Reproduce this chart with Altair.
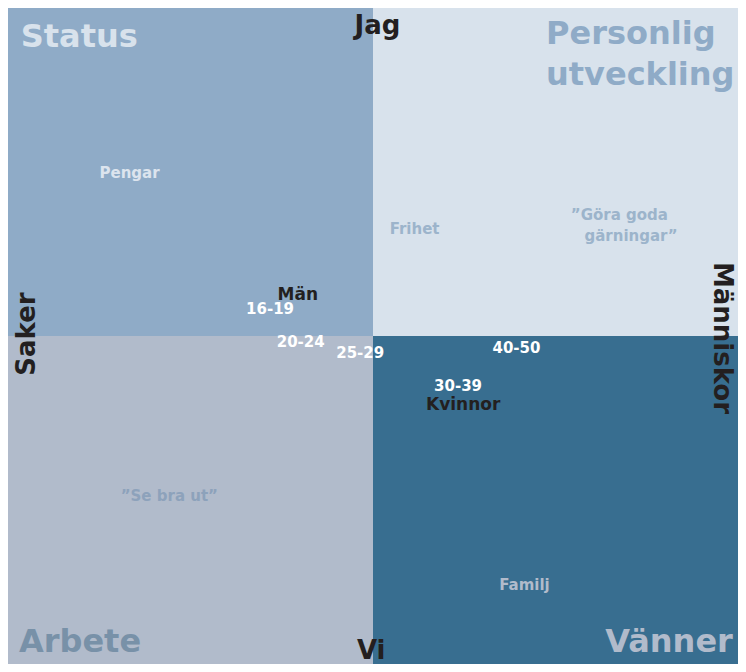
import altair as alt
import pandas as pd

# Quadrant backgrounds
quad_names = ["Status", "Personlig utveckling", "Arbete", "Vänner"]
quad_x = [-1, 0, -1, 0]
quad_x2 = [0, 1, 0, 1]
quad_y = [0, 0, -1, -1]
quad_y2 = [1, 1, 0, 0]
quad_colors = ["#8FABC7", "#D8E2EC", "#B1BBCB", "#386E90"]

# Text labels
labels = ["Status", "Jag", "Personlig", "utveckling", "Pengar", "Frihet",
          "\u201dGöra goda", "gärningar\u201d", "Människor", "Saker", "Män",
          "16-19", "20-24", "25-29", "40-50", "30-39", "Kvinnor",
          "\u201dSe bra ut\u201d", "Familj", "Arbete", "Vi", "Vänner"]
label_x = [-0.965, 0.012, 0.474, 0.474, -0.667, 0.114, 0.675, 0.707, 0.955, -0.949,
           -0.206, -0.282, -0.198, -0.035, 0.393, 0.233, 0.247, -0.558, 0.415,
           -0.970, -0.005, 0.986]
label_y = [0.913, 0.946, 0.922, 0.796, 0.497, 0.326, 0.368, 0.305, -0.006, 0.006,
           0.126, 0.081, -0.018, -0.051, -0.036, -0.153, -0.210, -0.488, -0.760,
           -0.934, -0.961, -0.934]
label_size = [32, 26, 32, 32, 15, 15, 15, 15, 26, 26, 17, 15, 15, 15, 15, 15, 17,
              15, 15, 32, 26, 32]
label_color = ["#D8E2EC", "#231F20", "#8FABC7", "#8FABC7", "#DCE4EE", "#9CB4CB",
               "#9CB4CB", "#9CB4CB", "#231F20", "#231F20", "#231F20", "#FFFFFF",
               "#FFFFFF", "#FFFFFF", "#FFFFFF", "#FFFFFF", "#231F20", "#8DA2BB",
               "#B1BBCB", "#7891A8", "#231F20", "#B1BBCB"]
label_angle = [0, 0, 0, 0, 0, 0, 0, 0, 90, 270, 0, 0, 0, 0, 0, 0, 0, 0, 0, 0, 0, 0]
label_align = ["left", "center", "left", "left", "center", "center", "center",
               "center", "center", "center", "center", "center", "center", "center",
               "center", "center", "center", "center", "center", "left", "center",
               "right"]

quads = pd.DataFrame({"name": quad_names, "x": quad_x, "x2": quad_x2,
                      "y": quad_y, "y2": quad_y2, "color": quad_colors})
texts = pd.DataFrame({"label": labels, "x": label_x, "y": label_y,
                      "size": label_size, "color": label_color,
                      "angle": label_angle, "align": label_align})

xs = alt.Scale(domain=[-1, 1], nice=False, zero=False)
ys = alt.Scale(domain=[-1, 1], nice=False, zero=False)

rects = alt.Chart(quads).mark_rect().encode(
    x=alt.X("x:Q", scale=xs, axis=None),
    x2="x2:Q",
    y=alt.Y("y:Q", scale=ys, axis=None),
    y2="y2:Q",
    color=alt.Color("color:N", scale=None),
)

layers = [rects]
for al in ["left", "center", "right"]:
    layers.append(
        alt.Chart(texts).transform_filter(alt.datum.align == al).mark_text(
            align=al, baseline="middle", font="DejaVu Sans", fontWeight="bold"
        ).encode(
            x=alt.X("x:Q", scale=xs, axis=None),
            y=alt.Y("y:Q", scale=ys, axis=None),
            text="label:N",
            size=alt.Size("size:Q", scale=None),
            color=alt.Color("color:N", scale=None),
            angle=alt.Angle("angle:Q", scale=None),
        )
    )

chart = alt.layer(*layers).properties(
    width=730, height=656, padding=0, autosize=alt.AutoSizeParams(type="none")
).configure_view(stroke=None)

chart.save("out.html", embed_options={"renderer": "svg", "actions": False})
